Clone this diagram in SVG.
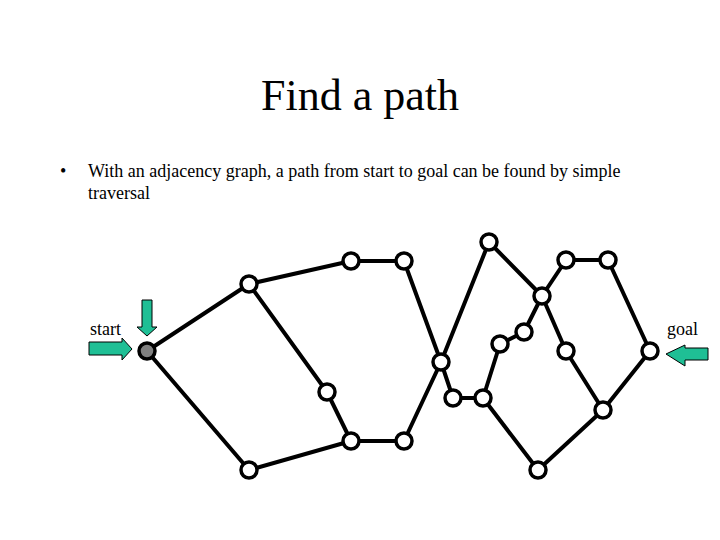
<svg xmlns="http://www.w3.org/2000/svg" width="720" height="540" viewBox="0 0 720 540">
<style>
.t{font-family:"Liberation Serif","Times New Roman",serif;fill:#000}
.e{stroke:#000;stroke-width:4;fill:none;stroke-linecap:round}
.n{fill:#fff;stroke:#000;stroke-width:3.5}
.ar{fill:#1fbf95;stroke:#000;stroke-width:1}
</style>
<rect width="720" height="540" fill="#fff"/>
<text class="t" x="360" y="110" font-size="44" text-anchor="middle">Find a path</text>
<text class="t" x="60" y="177" font-size="18">•</text>
<text class="t" x="88" y="177" font-size="18">With an adjacency graph, a path from start to goal can be found by simple</text>
<text class="t" x="88" y="199" font-size="18">traversal</text>
<g id="connectors">
<line class="e" x1="147" y1="351" x2="249" y2="284"/>
<line class="e" x1="147" y1="351" x2="249" y2="470"/>
<line class="e" x1="249" y1="284" x2="351" y2="261"/>
<line class="e" x1="351" y1="261" x2="404" y2="261"/>
<line class="e" x1="249" y1="284" x2="327" y2="392"/>
<line class="e" x1="327" y1="392" x2="351" y2="441"/>
<line class="e" x1="351" y1="441" x2="249" y2="470"/>
<line class="e" x1="351" y1="441" x2="404" y2="441"/>
<line class="e" x1="404" y1="261" x2="441" y2="362"/>
<line class="e" x1="404" y1="441" x2="441" y2="362"/>
<line class="e" x1="441" y1="362" x2="489" y2="242"/>
<line class="e" x1="441" y1="362" x2="453" y2="398"/>
<line class="e" x1="453" y1="398" x2="483" y2="398"/>
<line class="e" x1="483" y1="398" x2="500" y2="344"/>
<line class="e" x1="500" y1="344" x2="524" y2="332"/>
<line class="e" x1="524" y1="332" x2="542" y2="296"/>
<line class="e" x1="489" y1="242" x2="542" y2="296"/>
<line class="e" x1="542" y1="296" x2="566" y2="260"/>
<line class="e" x1="566" y1="260" x2="608" y2="260"/>
<line class="e" x1="608" y1="260" x2="650" y2="351"/>
<line class="e" x1="542" y1="296" x2="566" y2="351"/>
<line class="e" x1="566" y1="351" x2="603" y2="410"/>
<line class="e" x1="603" y1="410" x2="650" y2="351"/>
<line class="e" x1="483" y1="398" x2="538" y2="470"/>
<line class="e" x1="538" y1="470" x2="603" y2="410"/>
</g>
<g id="start"><circle cx="147" cy="351" r="8" fill="#808080" stroke="#000" stroke-width="3.5"/></g>
<g id="nA"><circle class="n" cx="249" cy="284" r="8"/></g>
<g id="nB"><circle class="n" cx="351" cy="261" r="8"/></g>
<g id="nC"><circle class="n" cx="404" cy="261" r="8"/></g>
<g id="nD"><circle class="n" cx="327" cy="392" r="8"/></g>
<g id="nE"><circle class="n" cx="351" cy="441" r="8"/></g>
<g id="nF"><circle class="n" cx="404" cy="441" r="8"/></g>
<g id="nG"><circle class="n" cx="249" cy="470" r="8"/></g>
<g id="nH"><circle class="n" cx="441" cy="362" r="8"/></g>
<g id="nI"><circle class="n" cx="489" cy="242" r="8"/></g>
<g id="nJ"><circle class="n" cx="453" cy="398" r="8"/></g>
<g id="nK"><circle class="n" cx="483" cy="398" r="8"/></g>
<g id="nM"><circle class="n" cx="500" cy="344" r="8"/></g>
<g id="nN"><circle class="n" cx="524" cy="332" r="8"/></g>
<g id="nL"><circle class="n" cx="542" cy="296" r="8"/></g>
<g id="nO"><circle class="n" cx="566" cy="260" r="8"/></g>
<g id="nP"><circle class="n" cx="608" cy="260" r="8"/></g>
<g id="nQ"><circle class="n" cx="566" cy="351" r="8"/></g>
<g id="goal"><circle class="n" cx="650" cy="351" r="8"/></g>
<g id="nT"><circle class="n" cx="603" cy="410" r="8"/></g>
<g id="nU"><circle class="n" cx="538" cy="470" r="8"/></g>
<g id="start-label">
<text class="t" x="90" y="335" font-size="18">start</text>
<polygon class="ar" points="89,342 122,342 122,338 132,349 122,360 122,355 89,355"/>
<polygon class="ar" points="142,300 152,300 152,327 157,327 147,336 137,327 142,327"/>
</g>
<g id="goal-label">
<text class="t" x="667" y="335" font-size="18">goal</text>
<polygon class="ar" points="708,348 685,348 685,345 666,354 685,366 685,360 708,360"/>
</g>
</svg>
